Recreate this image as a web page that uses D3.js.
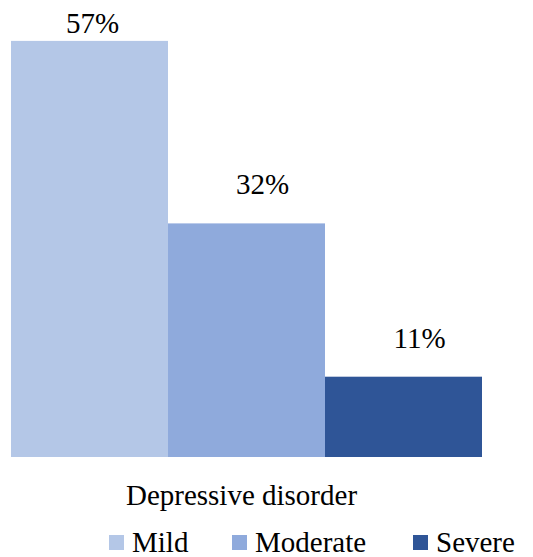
<!DOCTYPE html>
<html>
<head>
<meta charset="utf-8">
<script src="https://cdn.jsdelivr.net/npm/d3@7"></script>
</head>
<body style="margin:0">
<svg id="chart" width="533" height="557"></svg>
<script>
// Share of respondents by depressive disorder severity
const categories = ["Depressive disorder"];
const seriesNames = ["Mild", "Moderate", "Severe"];
const seriesValues = [57, 32, 11];
const seriesColors = ["#b4c7e7", "#8faadc", "#2f5597"];

// Apply the chart's serif type to a text selection
const serif = sel => sel
  .attr("font-family", "Times New Roman, Liberation Serif, Tinos, serif")
  .style("font-family", "Times New Roman, Liberation Serif, Tinos, serif")
  .attr("font-size", 29)
  .attr("fill", "#000");

const svg = d3.select("#chart");
const plot = { left: 11, right: 482, top: 19, bottom: 457 };

// One category group, with the three series side by side inside it
const x0 = d3.scaleBand().domain(categories).range([plot.left, plot.right]).padding(0);
const x1 = d3.scaleBand().domain(seriesNames).range([0, x0.bandwidth()]).padding(0);
const y = d3.scaleLinear().domain([0, 60]).range([plot.bottom, plot.top]);

const rows = seriesNames.map((name, i) => ({ name, value: seriesValues[i], color: seriesColors[i] }));

const g = svg.append("g")
  .selectAll("g")
  .data(categories)
  .join("g")
  .attr("transform", d => `translate(${x0(d)},0)`);

g.selectAll("rect")
  .data(rows)
  .join("rect")
  .attr("x", d => x1(d.name))
  .attr("y", d => y(d.value))
  .attr("width", x1.bandwidth())
  .attr("height", d => y(0) - y(d.value))
  .attr("fill", d => d.color);

// Value labels sit above each bar, pushed down to stay inside the chart area
const labelTopLimit = 33;
const labelY = d => Math.max(y(d.value) - 29, labelTopLimit);
const labelDx = d => (y(d.value) - 29 < labelTopLimit ? 3 : 16);

g.selectAll("text.value")
  .data(rows)
  .join("text")
  .attr("class", "value")
  .attr("x", d => x1(d.name) + x1.bandwidth() / 2 + labelDx(d))
  .attr("y", labelY)
  .attr("text-anchor", "middle")
  .call(serif)
  .text(d => d.value + "%");

// Category axis label
svg.selectAll("text.cat")
  .data(categories)
  .join("text")
  .attr("class", "cat")
  .attr("x", d => x0(d) + x0.bandwidth() / 2 - 5)
  .attr("y", 505)
  .attr("text-anchor", "middle")
  .call(serif)
  .text(d => d);

// Legend
const legendX = [109, 232, 413];
const legend = svg.append("g")
  .selectAll("g")
  .data(rows)
  .join("g")
  .attr("transform", (d, i) => `translate(${legendX[i]},535)`);

legend.append("rect")
  .attr("width", 15)
  .attr("height", 15)
  .attr("fill", d => d.color);

legend.append("text")
  .attr("x", 23)
  .attr("y", 17)
  .call(serif)
  .text(d => d.name);
</script>
</body>
</html>
